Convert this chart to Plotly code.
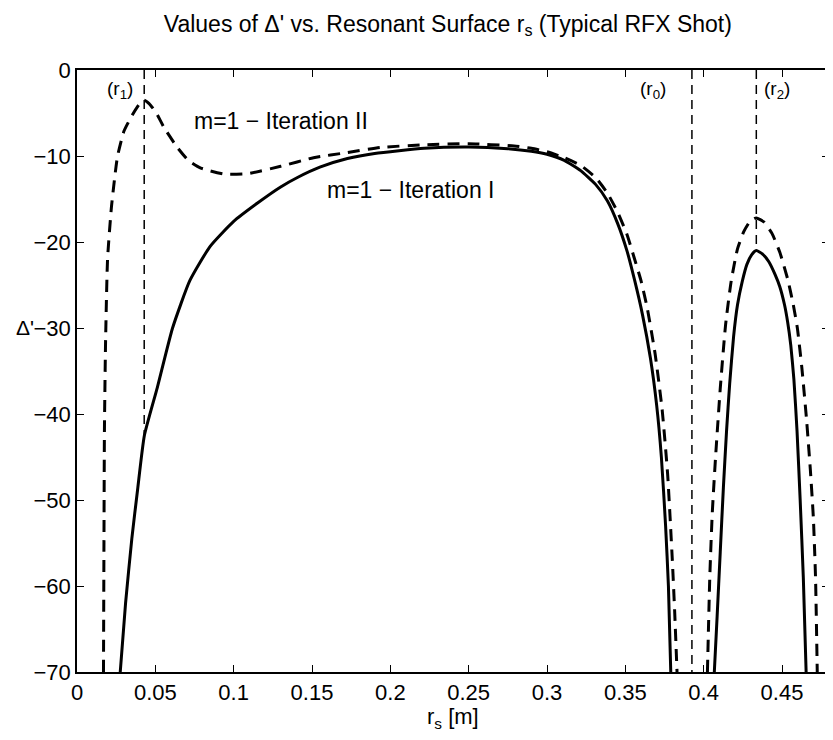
import plotly.graph_objects as go

# Iteration I (solid) - main branch
r_iter1_a = [0.0276, 0.031, 0.035, 0.0388, 0.043, 0.0513, 0.061, 0.072, 0.085, 0.100, 0.115,
             0.130, 0.1407, 0.155, 0.1726, 0.190, 0.2216, 0.250, 0.275, 0.290, 0.300, 0.311,
             0.3215, 0.331, 0.3385, 0.345, 0.351, 0.356, 0.361, 0.366, 0.370, 0.373,
             0.3757, 0.3775, 0.379]
d_iter1_a = [-70, -62, -54.5, -48.6, -42.5, -36.9, -30, -24.5, -20.5, -17.6, -15.5,
             -13.6, -12.5, -11.3, -10.3, -9.7, -9.1, -8.95, -9.15, -9.45, -9.8, -10.5,
             -11.7, -13.3, -15.2, -17.8, -21, -24.5, -28.5, -33.5, -39, -45,
             -53, -60, -70]
# Iteration I (solid) - outer hump
r_iter1_b = [0.4068, 0.4086, 0.4106, 0.4126, 0.4146, 0.4166, 0.4191, 0.4216, 0.4246,
             0.4276, 0.4306, 0.4336, 0.4376, 0.4416, 0.4456, 0.4486, 0.4516, 0.4536,
             0.4556, 0.4576, 0.4596, 0.4616, 0.4636, 0.4654]
d_iter1_b = [-70, -63.5, -56, -48.5, -42, -36.5, -31, -27.3, -24.6,
             -22.6, -21.5, -21, -21.4, -22.3, -23.8, -25.2, -27.3, -29.3,
             -32, -36, -42, -50, -59, -70]

# Iteration II (dashed) - main branch
r_iter2_a = [0.0169, 0.0172, 0.0175, 0.0182, 0.0195, 0.022, 0.0258, 0.030, 0.0354, 0.040,
             0.0429, 0.046, 0.0503, 0.0556, 0.064, 0.071, 0.079, 0.094, 0.109, 0.130,
             0.151, 0.1726, 0.194, 0.2216, 0.250, 0.279, 0.290, 0.300, 0.311, 0.3215,
             0.331, 0.3385, 0.345, 0.351, 0.3556, 0.360, 0.364, 0.369, 0.3735, 0.377,
             0.380, 0.3815, 0.383]
d_iter2_a = [-70, -55, -42, -32, -22, -15.9, -10.1, -7.1, -5.2, -3.9,
             -3.5, -3.9, -4.9, -6.7, -9.0, -10.5, -11.4, -12.1, -12.05, -11.2,
             -10.2, -9.6, -9.0, -8.7, -8.57, -8.84, -9.1, -9.5, -10.2, -11.1,
             -12.5, -14.3, -16.5, -19.1, -21.8, -24.5, -27.7, -33, -39.5, -47,
             -57, -63, -70]
# Iteration II (dashed) - outer hump
r_iter2_b = [0.4024, 0.4039, 0.4055, 0.4076, 0.4106, 0.4140, 0.4176, 0.4216, 0.4256,
             0.4296, 0.4336, 0.4386, 0.4436, 0.4486, 0.4536, 0.4571, 0.4598, 0.4626,
             0.4656, 0.4681, 0.4700, 0.4714, 0.4725]
d_iter2_b = [-70, -59, -51.5, -45, -37, -29.6, -24.5, -20.8, -18.8,
             -17.6, -17.2, -17.7, -19, -21.2, -24.3, -27.2, -30, -34.5,
             -40.5, -46.5, -52, -59, -70]

# Resonant / reference surfaces
surf_names = ["(r<sub>1</sub>)", "(r<sub>0</sub>)", "(r<sub>2</sub>)"]
surf_r = [0.0429, 0.3925, 0.4336]
surf_bottom = [-42.5, -70, -21]
surf_label_x = [0.0275, 0.3675, 0.4465]

x_ticks = [0, 0.05, 0.1, 0.15, 0.2, 0.25, 0.3, 0.35, 0.4, 0.45]
y_ticks = [0, -10, -20, -30, -40, -50, -60, -70]

FONT = "Liberation Sans, Arial, Helvetica, sans-serif"

fig = go.Figure()

line_solid = dict(color="black", width=3, shape="spline", smoothing=0.5)
line_dash = dict(color="black", width=3, dash="12px,8px", shape="spline", smoothing=0.5)

fig.add_trace(go.Scatter(x=r_iter1_a, y=d_iter1_a, mode="lines", line=line_solid, showlegend=False))
fig.add_trace(go.Scatter(x=r_iter1_b, y=d_iter1_b, mode="lines", line=line_solid, showlegend=False))
fig.add_trace(go.Scatter(x=r_iter2_a, y=d_iter2_a, mode="lines", line=line_dash, showlegend=False))
fig.add_trace(go.Scatter(x=r_iter2_b, y=d_iter2_b, mode="lines", line=line_dash, showlegend=False))

for name, r, yb, lx in zip(surf_names, surf_r, surf_bottom, surf_label_x):
    fig.add_trace(go.Scatter(x=[r, r], y=[0, yb], mode="lines",
                             line=dict(color="black", width=1.5, dash="9px,6px"),
                             showlegend=False))
    fig.add_annotation(x=lx, y=-2.3, text=name, showarrow=False,
                       font=dict(family=FONT, size=19, color="black"))

fig.add_annotation(x=0.1305, y=-5.9, text="m=1 − Iteration II", showarrow=False,
                   font=dict(family=FONT, size=23, color="black"))
fig.add_annotation(x=0.213, y=-14.0, text="m=1 − Iteration I", showarrow=False,
                   font=dict(family=FONT, size=23, color="black"))

# y-axis label (horizontal, like the original)
fig.add_annotation(xref="paper", yref="paper", x=-0.084, y=0.572, text="Δ'",
                   showarrow=False, xanchor="left",
                   font=dict(family=FONT, size=21, color="black"))

# x-axis label
fig.add_annotation(xref="paper", yref="paper", x=0.5, y=0, yshift=-30,
                   text="r<sub>s</sub> [m]", showarrow=False, yanchor="top",
                   font=dict(family=FONT, size=22, color="black"))

fig.update_layout(
    width=833, height=740,
    margin=dict(l=69, r=10, t=62, b=76),
    paper_bgcolor="white", plot_bgcolor="white",
    font=dict(family=FONT, size=22, color="black"),
    title=dict(text="Values of Δ' vs. Resonant Surface r<sub>s</sub> (Typical RFX Shot)",
               x=0.528, xanchor="center", y=0.99, yanchor="top",
               font=dict(family=FONT, size=23, color="black")),
)

fig.update_xaxes(range=[0, 0.48], tickvals=x_ticks,
                 ticktext=[("%g" % v) for v in x_ticks],
                 ticks="inside", ticklen=7, tickwidth=1.2, tickcolor="black",
                 showline=True, linecolor="black", linewidth=1.5, mirror="ticks",
                 showgrid=False, zeroline=False,
                 tickfont=dict(family=FONT, size=22))
fig.update_yaxes(range=[-70, 0], tickvals=y_ticks,
                 ticks="inside", ticklen=7, tickwidth=1.2, tickcolor="black",
                 showline=True, linecolor="black", linewidth=1.5, mirror="ticks",
                 showgrid=False, zeroline=False,
                 tickfont=dict(family=FONT, size=22))

fig.write_html("out.html")
